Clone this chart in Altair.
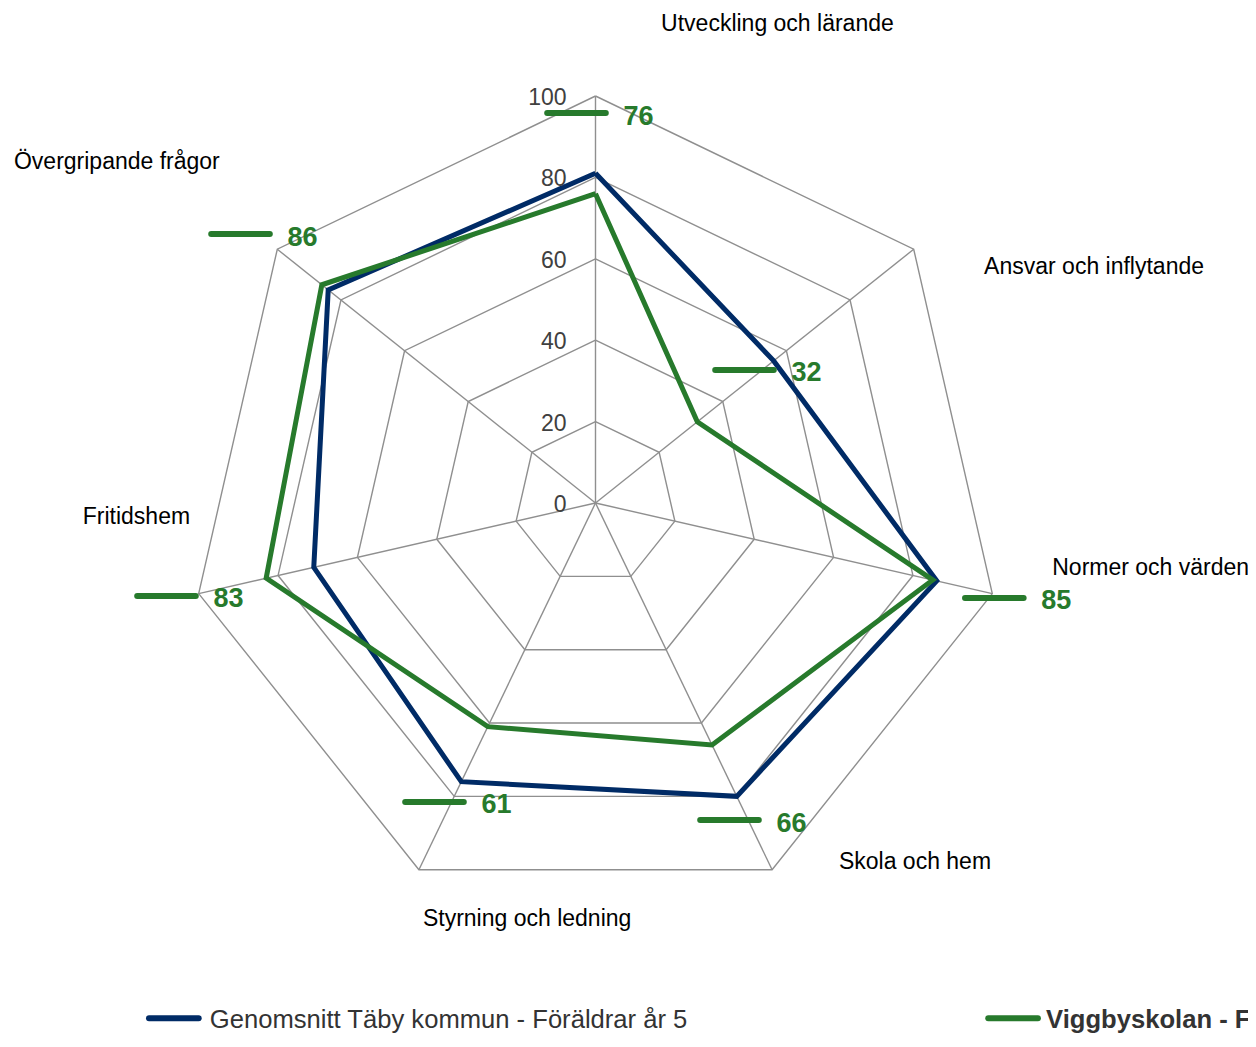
import math
import altair as alt
import pandas as pd

# ---------------- data ----------------
categories = [
    "Utveckling och lärande",
    "Ansvar och inflytande",
    "Normer och värden",
    "Skola och hem",
    "Styrning och ledning",
    "Fritidshem",
    "Övergripande frågor",
]
blue_values = [81, 56, 86, 80, 76, 71, 84]
green_values = [76, 32, 85, 66, 61, 83, 86]
series_names = [
    "Genomsnitt Täby kommun - Föräldrar år 5",
    "Viggbyskolan - Föräldrar år 5",
]
ring_values = [20, 40, 60, 80, 100]
tick_values = [0, 20, 40, 60, 80, 100]
tick_labels = ["0", "20", "40", "60", "80", "100"]

# ---------------- layout (in units of the radial scale) ----------------
cat_label_x = [44.7, 122.5, 136.4, 78.5, -16.8, -112.8, -117.6]
cat_label_y = [117.7, 58.0, -16.0, -88.2, -102.2, -3.4, 83.8]
val_label_x = [-4.67, 36.61, 97.99, 32.92, -39.56, -105.41, -87.22]
val_label_y = [95.82, 32.68, -23.34, -77.89, -73.46, -22.85, 66.09]
dash_half = 7.2
legend_dash_half = 6.1
legend_x = [-103.6, 102.6]
legend_y = [-126.6, -126.6]

BLUE = "#002b66"
GREEN = "#277a2c"
GRID = "#8f8f8f"
FONT = "Liberation Sans"

W, H = 1240, 1026
CX, CY, K = 587.5, 495.0, 4.07   # centre (px in plot) and px per unit

n = len(categories)
angles = [2 * math.pi * i / n for i in range(n)]


def polar(r, i):
    a = angles[i % n]
    return r * math.sin(a), r * math.cos(a)


ring_rows = []
for rv in ring_values:
    for k in range(n + 1):
        x, y = polar(rv, k)
        ring_rows.append({"ring": rv, "idx": k, "x": x, "y": y})
rings_df = pd.DataFrame(ring_rows)

spoke_rows = []
for i in range(n):
    x, y = polar(100, i)
    spoke_rows.append({"x0": 0.0, "y0": 0.0, "x": x, "y": y})
spokes_df = pd.DataFrame(spoke_rows)

ser_rows = []
for s, vals in zip(series_names, [blue_values, green_values]):
    for k in range(n + 1):
        v = vals[k % n]
        x, y = polar(v, k)
        ser_rows.append({"series": s, "idx": k, "x": x, "y": y, "value": v})
series_df = pd.DataFrame(ser_rows)

ticks_df = pd.DataFrame({"x": [0.0] * len(tick_values), "y": tick_values, "label": tick_labels})
cats_df = pd.DataFrame({"x": cat_label_x, "y": cat_label_y, "label": categories})
vals_df = pd.DataFrame({
    "x": val_label_x,
    "x1": [v - dash_half for v in val_label_x],
    "x2": [v + dash_half for v in val_label_x],
    "y": val_label_y,
    "label": [str(v) for v in green_values],
})
leg_df = pd.DataFrame({
    "x": legend_x,
    "x1": [v - legend_dash_half for v in legend_x],
    "x2": [v + legend_dash_half for v in legend_x],
    "y": legend_y,
    "label": series_names,
    "series": series_names,
})

xs = alt.Scale(domain=[-CX / K, (W - CX) / K], nice=False, zero=False)
ys = alt.Scale(domain=[-(H - CY) / K, CY / K], nice=False, zero=False)
cs = alt.Scale(domain=series_names, range=[BLUE, GREEN])

X = lambda f="x": alt.X(f"{f}:Q", scale=xs, axis=None)
Y = lambda f="y": alt.Y(f"{f}:Q", scale=ys, axis=None)

rings = alt.Chart(rings_df).mark_line(stroke=GRID, strokeWidth=1.4).encode(
    x=X(), y=Y(), detail="ring:N", order="idx:Q"
)
spokes = alt.Chart(spokes_df).mark_rule(stroke=GRID, strokeWidth=1.4).encode(
    x=X("x0"), y=Y("y0"), x2="x:Q", y2="y:Q"
)
lines = alt.Chart(series_df).mark_line(strokeWidth=5, strokeJoin="miter").encode(
    x=X(), y=Y(),
    color=alt.Color("series:N", scale=cs, legend=None),
    detail="series:N",
    order="idx:Q",
)
ticks = alt.Chart(ticks_df).mark_text(
    align="right", baseline="middle", dx=-29, dy=2, fontSize=23, font=FONT, color="#404040"
).encode(x=X(), y=Y(), text="label:N")
cats = alt.Chart(cats_df).mark_text(
    align="center", baseline="middle", fontSize=23, font=FONT, color="#000000"
).encode(x=X(), y=Y(), text="label:N")
dashes = alt.Chart(vals_df).mark_rule(strokeWidth=6, strokeCap="round", color=GREEN).encode(
    x=X("x1"), x2="x2:Q", y=Y()
)
vlabels = alt.Chart(vals_df).mark_text(
    align="left", baseline="middle", dx=47, dy=3.5, fontSize=27, fontWeight="bold", font=FONT, color=GREEN
).encode(x=X(), y=Y(), text="label:N")
leg_dash = alt.Chart(leg_df).mark_rule(strokeWidth=6, strokeCap="round").encode(
    x=X("x1"), x2="x2:Q", y=Y(), color=alt.Color("series:N", scale=cs, legend=None)
)
leg_text_blue = alt.Chart(leg_df.iloc[[0]]).mark_text(
    align="left", baseline="middle", dx=36, dy=2, fontSize=25.6, font=FONT, color="#333333"
).encode(x=X(), y=Y(), text="label:N")
leg_text_green = alt.Chart(leg_df.iloc[[1]]).mark_text(
    align="left", baseline="middle", dx=33, dy=2, fontSize=25.6, fontWeight="bold", font=FONT, color="#333333"
).encode(x=X(), y=Y(), text="label:N")

chart = alt.layer(
    rings, spokes, lines, ticks, cats, dashes, vlabels, leg_dash, leg_text_blue, leg_text_green
).properties(
    width=W, height=H, padding=0,
    autosize=alt.AutoSizeParams(type="none"),
).configure_view(strokeWidth=0)

chart.save("out.html", embed_options={"renderer": "svg", "actions": False})
